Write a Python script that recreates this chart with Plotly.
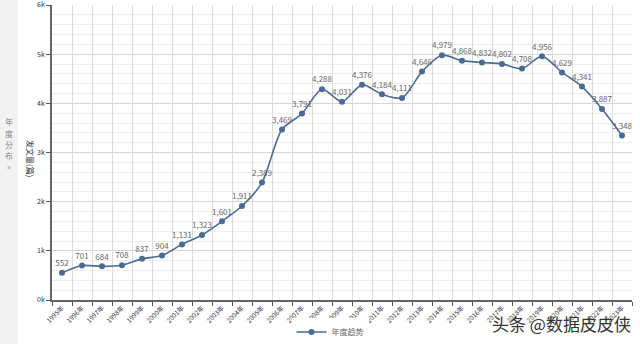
import plotly.graph_objects as go

years = [f"{y}年" for y in range(1995, 2024)]
counts = [552, 701, 684, 708, 837, 904, 1131, 1323, 1601, 1911, 2389, 3469, 3791,
          4288, 4031, 4376, 4184, 4111, 4646, 4979, 4868, 4832, 4802, 4708, 4956,
          4629, 4341, 3887, 3348]
ytick_vals = [0, 1000, 2000, 3000, 4000, 5000, 6000]
ytick_text = ["0k", "1k", "2k", "3k", "4k", "5k", "6k"]
side_chars = ["年", "度", "分", "布", "»"]

FONT = "Noto Sans CJK SC, Noto Sans, sans-serif"
L, R, T, B = 52, 8, 5, 44
W, H = 640, 344
pw, ph = W - L - R, H - T - B

def px(x):
    return (x - L) / pw

def py(y):
    return (H - B - y) / ph

fig = go.Figure()
fig.add_trace(go.Scatter(
    x=years, y=counts, mode="lines+markers+text", name="年度趋势",
    line=dict(color="#4a6b93", width=1.6, shape="spline", smoothing=0.8),
    marker=dict(color="#4a6b93", size=6),
    text=[f"{v:,}" for v in counts], textposition="top center",
    textfont=dict(size=8, color="#666666", family=FONT),
    cliponaxis=False,
))

fig.update_layout(
    width=W, height=H,
    margin=dict(l=L, r=R, t=T, b=B, autoexpand=False),
    paper_bgcolor="white", plot_bgcolor="white",
    font=dict(family=FONT, size=7, color="#333333"),
    showlegend=True,
    legend=dict(orientation="h", x=px(330), xanchor="center", y=py(332), yanchor="middle",
                font=dict(size=8, color="#666666")),
    xaxis=dict(type="category", range=[-0.5, len(years) - 0.5], autorange=False,
               tickson="boundaries", showgrid=True, gridcolor="#dcdcdc",
               gridwidth=1, ticks="outside", ticklen=4, tickcolor="#555555",
               showline=True, linecolor="#666666", linewidth=1.5, automargin=False,
               tickangle=-45, tickfont=dict(size=6.5, color="#333333"), zeroline=False),
    yaxis=dict(range=[0, 6000], autorange=False, tickmode="array",
               tickvals=ytick_vals, ticktext=ytick_text, ticklabeloverflow="allow",
               showgrid=True, gridcolor="#d6d6d6", ticks="outside", ticklen=4,
               tickcolor="#555555", showline=True, linecolor="#666666", linewidth=1.5,
               tickfont=dict(size=7, color="#333333"), zeroline=False, automargin=False,
               minor=dict(dtick=200, showgrid=True, gridcolor="#eeeeee", ticks="")),
)

# Left side panel
fig.add_shape(type="rect", xref="paper", yref="paper", x0=px(0), x1=px(18),
              y0=py(H), y1=py(0), fillcolor="#f2f2f2", line=dict(width=0), layer="below")
for i, ch in enumerate(side_chars):
    fig.add_annotation(xref="paper", yref="paper", x=px(9), y=py(122 + i * 11),
                       xanchor="center", yanchor="middle", borderpad=0,
                       showarrow=False, text=ch, font=dict(size=8, color="#888888"))
fig.add_annotation(xref="paper", yref="paper", x=px(31), y=py(158), showarrow=False,
                   xanchor="center", yanchor="middle",
                   text="发文量(篇)", textangle=90, font=dict(size=8, color="#333333"))
# Watermark
fig.add_annotation(xref="paper", yref="paper", x=px(561), y=py(323), showarrow=False,
                   xanchor="center", yanchor="middle",
                   text="头条 @数据皮皮侠", font=dict(size=17, color="#333333"))

fig.write_html("out.html")
